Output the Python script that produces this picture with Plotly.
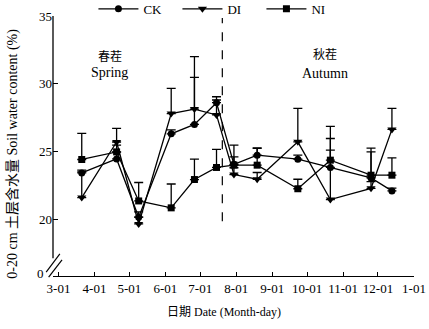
import plotly.graph_objects as go

dates = ["2019-03-21", "2019-04-20", "2019-05-09", "2019-06-06", "2019-06-26", "2019-07-15",
         "2019-07-30", "2019-08-19", "2019-09-23", "2019-10-21", "2019-11-25", "2019-12-13"]
ck = [23.42, 24.45, 20.15, 26.3, 27.0, 28.6, 24.05, 24.73, 24.43, 23.82, 23.05, 22.09]
di = [21.6, 25.7, 19.65, 27.8, 28.13, 27.7, 23.3, 22.95, 25.71, 21.45, 22.28, 26.63]
ni = [24.41, 24.97, 21.35, 20.84, 22.93, 23.82, 24.0, 23.99, 22.25, 24.36, 23.25, 23.25]
ck_err = [0.2, 0.5, 0.4, 0.3, 3.47, 0.44, 0.55, 0.5, 0.3, 2.14, 1.92, 0.2]
di_err = [1.9, 1.0, 0.5, 1.86, 3.87, 1.1, 0.5, 0.5, 2.47, 3.65, 0.5, 1.55]
ni_err = [1.92, 0.5, 1.36, 1.76, 1.5, 1.33, 1.47, 1.28, 0.7, 2.5, 2.0, 1.28]

y_break_bottom = 15.81
ytick_vals = [20, 25, 30, 35]
ytick_text = ["20", "25", "30", "35"]
y_zero_label = "0"
season_split = "2019-07-20"

FONT = "Liberation Serif, Noto Sans CJK SC, serif"

fig = go.Figure()
series = [("CK", ck, ck_err, "circle", 7), ("DI", di, di_err, "triangle-down", 8), ("NI", ni, ni_err, "square", 7)]
for name, vals, errs, sym, sz in series:
    fig.add_trace(go.Scatter(
        x=dates, y=vals, name=name, mode="lines+markers",
        line=dict(color="black", width=1.3),
        marker=dict(symbol=sym, size=sz, color="black"),
        error_y=dict(type="data", array=errs, arrayminus=[0] * len(errs), symmetric=False,
                     color="black", thickness=1.3, width=4.5),
    ))

shapes = [
    dict(type="line", xref="x", yref="y", x0=season_split, x1=season_split, y0=19.85, y1=34.85,
         line=dict(color="black", width=1.2, dash="dash")),
    dict(type="line", xref="paper", yref="paper", x0=0, x1=0, y0=0.068, y1=1,
         line=dict(color="black", width=1.3)),
    dict(type="line", xref="paper", yref="paper", x0=-0.019, y0=0.015, x1=0.019, y1=0.085,
         line=dict(color="black", width=1.2)),
    dict(type="line", xref="paper", yref="paper", x0=-0.012, y0=-0.004, x1=0.025, y1=0.062,
         line=dict(color="black", width=1.2)),
]

annotations = [
    dict(text="春茬", x="2019-04-14", y=31.97, xref="x", yref="y", showarrow=False,
         font=dict(size=12, color="black", family=FONT)),
    dict(text="Spring", x="2019-04-14", y=30.86, xref="x", yref="y", showarrow=False,
         font=dict(size=14, color="black", family=FONT)),
    dict(text="秋茬", x="2019-10-16", y=32.1, xref="x", yref="y", showarrow=False,
         font=dict(size=12, color="black", family=FONT)),
    dict(text="Autumn", x="2019-10-16", y=30.79, xref="x", yref="y", showarrow=False,
         font=dict(size=14, color="black", family=FONT)),
    dict(text=y_zero_label, x=-0.02, y=y_break_bottom + 0.18, xref="paper", yref="y",
         showarrow=False, xanchor="right", yanchor="middle",
         font=dict(size=13, color="black", family=FONT)),
    dict(text="日期 Date (Month-day)", x=0.474, y=-0.138, xref="paper", yref="paper",
         showarrow=False, xanchor="center", yanchor="middle",
         font=dict(size=12, color="black", family=FONT)),
    dict(text="0-20 cm 土层含水量 Soil water content (%)", x=-0.111, y=0.47, xref="paper", yref="paper",
         showarrow=False, textangle=-90, xanchor="center", yanchor="middle",
         font=dict(size=14, color="black", family=FONT)),
]

fig.update_layout(
    width=429, height=329,
    margin=dict(l=53, r=15, t=16, b=53, autoexpand=False),
    paper_bgcolor="white", plot_bgcolor="white",
    font=dict(family=FONT, size=13, color="black"),
    showlegend=True,
    legend=dict(orientation="h", x=0.112, y=1.085, xanchor="left", yanchor="top",
                font=dict(size=13, family=FONT, color="black"), bgcolor="rgba(0,0,0,0)",
                itemwidth=40, entrywidth=29, entrywidthmode="pixels"),
    xaxis=dict(type="date", range=["2019-02-24 06:00", "2020-01-01"],
               tick0="2019-03-01", dtick="M1", tickformat="%-m-%d",
               ticks="inside", ticklen=4, tickwidth=1.2, tickcolor="black",
               showline=True, linecolor="black", linewidth=1.3,
               showgrid=False, zeroline=False,
               tickfont=dict(size=13, family=FONT, color="black")),
    yaxis=dict(range=[y_break_bottom, 35], tickvals=ytick_vals, ticktext=ytick_text,
               ticks="inside", ticklen=5, tickwidth=1.2, tickcolor="black",
               showline=False, showgrid=False, zeroline=False,
               tickfont=dict(size=13, family=FONT, color="black")),
    shapes=shapes,
    annotations=annotations,
)

fig.write_html("out.html")
